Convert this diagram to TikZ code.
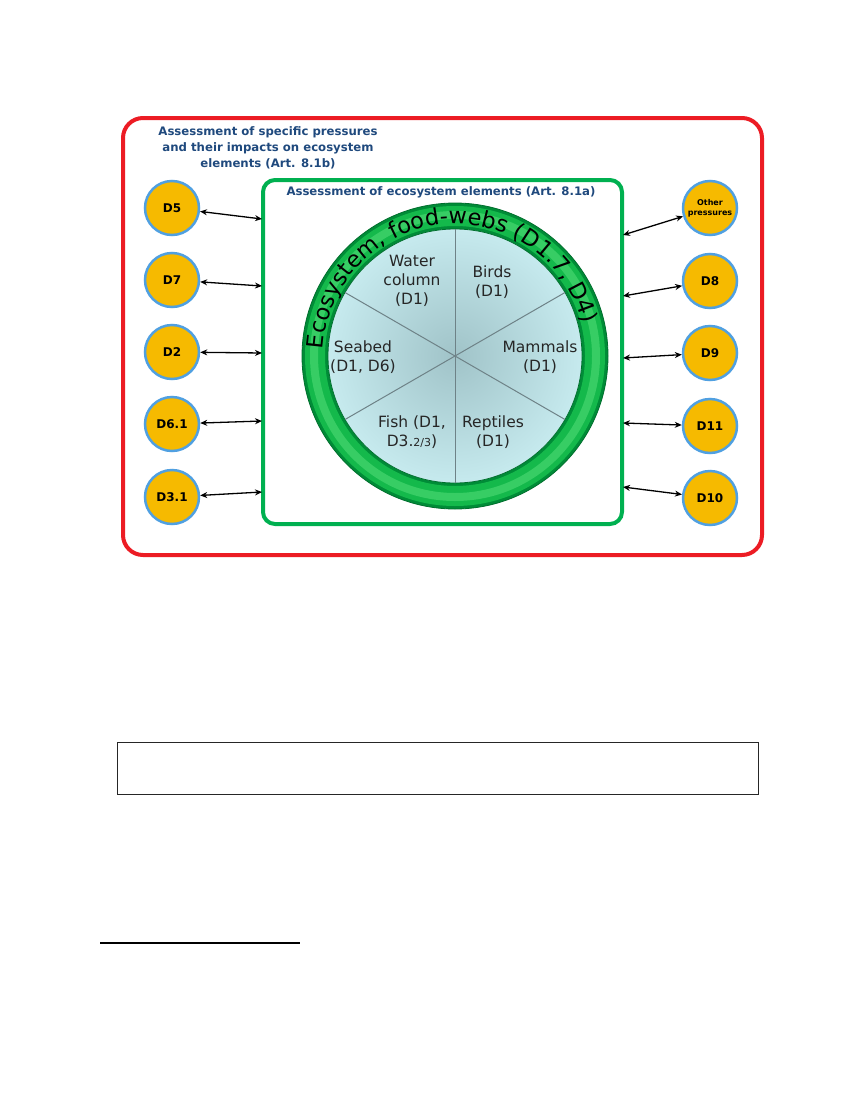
\documentclass[tikz,border=0pt]{standalone}
\usepackage{fontspec}
\setmainfont{DejaVu Sans}
\usetikzlibrary{arrows.meta,decorations.text}
\definecolor{redframe}{RGB}{236,28,36}
\definecolor{greenframe}{RGB}{0,176,80}
\definecolor{titleblue}{RGB}{31,73,125}
\definecolor{dfill}{RGB}{246,186,0}
\definecolor{dborder}{RGB}{80,160,225}
\definecolor{ringouter}{RGB}{0,140,55}
\definecolor{ringmid}{RGB}{20,185,75}
\definecolor{ringlight}{RGB}{55,205,100}
\definecolor{ringdark}{RGB}{0,110,45}
\definecolor{pielight}{RGB}{198,234,238}
\definecolor{piedark}{RGB}{160,195,200}
\definecolor{pieline}{RGB}{110,130,135}
\begin{document}
\begin{tikzpicture}[x=1pt,y=1pt,
  dnode/.style={circle, draw=dborder, line width=2.5pt, fill=dfill, minimum size=54pt, inner sep=0pt, font=\fontsize{12}{14}\selectfont\bfseries},
  link/.style={{Stealth[length=7pt,width=6pt]}-{Stealth[length=7pt,width=6pt]}, line width=1.3pt},
  titletext/.style={text=titleblue, font=\fontsize{11.7}{16}\selectfont\bfseries, align=center, inner sep=0pt},
  pielabel/.style={font=\fontsize{15.5}{19}\selectfont, align=center, text=black!85, inner sep=0pt}]
\useasboundingbox (0,0) rectangle (850,-1100);

% frames
\node[draw=redframe, line width=4pt, rounded corners=20pt, minimum width=639pt, minimum height=437pt, inner sep=0pt] (outer) at (442.5,-336.5) {};
\node[draw=greenframe, line width=4pt, rounded corners=12pt, minimum width=359pt, minimum height=344pt, inner sep=0pt] (inner) at (442.5,-352) {};

% titles
\node[titletext] (t1) at (268,-148) {Assessment of specific pressures\\and their impacts on ecosystem\\elements (Art. 8.1b)};
\node[titletext] (t2) at (441,-192) {Assessment of ecosystem elements (Art. 8.1a)};

% ring and pie
\coordinate (c) at (455,-356);
\draw[ringouter, line width=26pt] (c) circle (140);
\draw[ringmid, line width=20pt] (c) circle (140);
\draw[ringlight, line width=8pt] (c) circle (141);
\draw[ringdark, line width=0.8pt] (c) circle (153);
\shade[inner color=piedark, outer color=pielight] (c) circle (127);
\draw[ringdark, line width=0.8pt] (c) circle (127);
\foreach \a in {30,90,150,210,270,330}
  \draw[pieline, line width=1pt] (c) -- ++(\a:127);

\path[postaction={decorate}, decoration={text along path, text align=left,
   text={|\fontsize{22.5}{22.5}\selectfont|Ecosystem, food-webs (D1.7, D4)}}]
   ([shift={(177:132)}]c) arc[start angle=177, end angle=5, radius=132];

\node[pielabel] (water) at (412,-281) {Water\\column\\(D1)};
\node[pielabel] (birds) at (492,-282) {Birds\\(D1)};
\node[pielabel] (mammals) at (540,-357) {Mammals\\(D1)};
\node[pielabel] (reptiles) at (493,-432) {Reptiles\\(D1)};
\node[pielabel] (fish) at (412,-432) {Fish (D1,\\D3.{\fontsize{11}{11}\selectfont 2/3})};
\node[pielabel] (seabed) at (363,-357) {Seabed\\(D1, D6)};

% left pressure nodes
\node[dnode] (D5) at (172,-208) {D5};
\node[dnode] (D7) at (172,-280) {D7};
\node[dnode] (D2) at (172,-352) {D2};
\node[dnode] (D61) at (172,-424) {D6.1};
\node[dnode] (D31) at (172,-497) {D3.1};
% right pressure nodes
\node[dnode, font=\fontsize{8}{10}\selectfont\bfseries, align=center] (other) at (710,-208) {Other\\pressures};
\node[dnode] (D8) at (710,-281) {D8};
\node[dnode] (D9) at (710,-353) {D9};
\node[dnode] (D11) at (710,-426) {D11};
\node[dnode] (D10) at (710,-498) {D10};

% anchor points on the green frame
\coordinate (gL1) at (262,-219);
\coordinate (gL2) at (262,-286);
\coordinate (gL3) at (262,-353);
\coordinate (gL4) at (262,-421);
\coordinate (gL5) at (262,-492);
\coordinate (gR1) at (623,-235);
\coordinate (gR2) at (623,-296);
\coordinate (gR3) at (623,-358);
\coordinate (gR4) at (623,-423);
\coordinate (gR5) at (623,-487);

\draw[link] (D5) -- (gL1);
\draw[link] (D7) -- (gL2);
\draw[link] (D2) -- (gL3);
\draw[link] (D61) -- (gL4);
\draw[link] (D31) -- (gL5);
\draw[link] (other) -- (gR1);
\draw[link] (D8) -- (gR2);
\draw[link] (D9) -- (gR3);
\draw[link] (D11) -- (gR4);
\draw[link] (D10) -- (gR5);

% empty caption box and footnote rule
\node[draw=black!85, line width=0.9pt, minimum width=641pt, minimum height=52pt, inner sep=0pt] (note) at (437.5,-768) {};
\draw[line width=1.2pt] (100,-943) -- (300,-943);
\end{tikzpicture}
\end{document}
